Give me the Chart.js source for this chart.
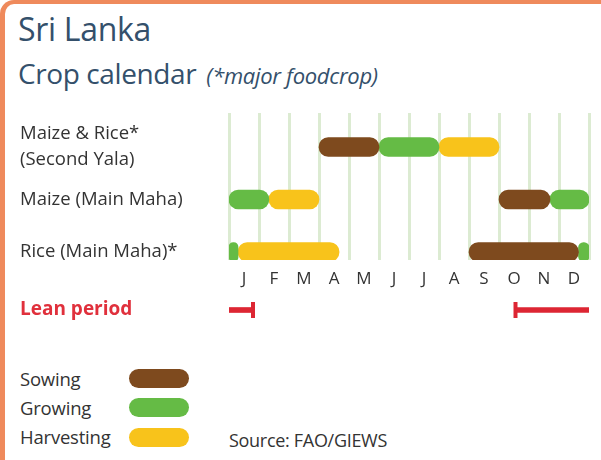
<!DOCTYPE html>
<html>
<head>
<meta charset="utf-8">
<script src="https://cdn.jsdelivr.net/npm/chart.js@4"></script>
<style>
  html, body { margin: 0; padding: 0; background: #fff; }
  body { width: 601px; height: 460px; position: relative; overflow: hidden; font-family: "Open Sans", sans-serif; }
  #frame { position: absolute; left: 0; top: 0; width: 640px; height: 520px; box-sizing: border-box;
           border-top: 4px solid #ef8a5c; border-left: 5px solid #ef8a5c; border-top-left-radius: 14px; }
  .t1 { position: absolute; left: 18px; top: 7px; font-size: 32px; line-height: 44px; color: #34506b; letter-spacing: -0.3px; }
  .t2 { position: absolute; left: 18px; top: 53px; font-size: 28px; line-height: 40px; color: #34506b; letter-spacing: -0.4px; }
  .t2 i { font-size: 22px; margin-left: 10px; letter-spacing: -0.3px; }
  #main { position: absolute; left: 0; top: 95px; }
  #lean { position: absolute; left: 0; top: 295px; }
  .leg { position: absolute; left: 20px; font-size: 18.5px; line-height: 24px; color: #333; letter-spacing: -0.2px; }
  .pill { position: absolute; left: 129px; width: 60px; height: 19px; border-radius: 10px; }
  .src { position: absolute; left: 229px; top: 428px; font-size: 18px; line-height: 24px; color: #333; letter-spacing: -0.3px; }
</style>
</head>
<body>
<div id="frame"></div>
<div class="t1">Sri Lanka</div>
<div class="t2">Crop calendar<i>(*major foodcrop)</i></div>
<canvas id="main" width="601" height="200"></canvas>
<canvas id="lean" width="601" height="30"></canvas>
<div class="leg" style="top:367px">Sowing</div>
<div class="pill" style="top:369px;background:#7e4a1e"></div>
<div class="leg" style="top:396px">Growing</div>
<div class="pill" style="top:398px;background:#65bb45"></div>
<div class="leg" style="top:425px">Harvesting</div>
<div class="pill" style="top:428px;background:#f8c31b"></div>
<div class="src">Source: FAO/GIEWS</div>
<script>
// ---- data ----
const months = ['J','F','M','A','M','J','J','A','S','O','N','D'];
const crops = [['Maize & Rice*', '(Second Yala)'], 'Maize (Main Maha)', 'Rice (Main Maha)*'];
// [crop index, start, end] in months counted from 1 January
const sowing = [[0, 3, 5], [1, 9, 10.7], [2, 8, 11.65]];
const growing = [[0, 5, 7], [1, 0, 1.33], [1, 10.7, 12], [2, 0, 0.3], [2, 11.65, 12]];
const harvesting = [[0, 7, 9], [1, 1.33, 3], [2, 0.3, 3.67]];
const leanPeriods = [[0, 0.8], [9.55, 12]];
const leanCaps = [0.8, 9.55];

const COLORS = { sowing: '#7e4a1e', growing: '#65bb45', harvesting: '#f8c31b', lean: '#dd2633' };
const FONT = '"Open Sans", sans-serif';

function toBars(list) { return list.map(([c, s, e]) => ({ x: [s, e], y: c })); }
function stage(label, list, color) {
  return { label, data: toBars(list), backgroundColor: color, borderWidth: 0,
           borderRadius: 12, borderSkipped: false, barThickness: 19, grouped: false };
}

new Chart(document.getElementById('main'), {
  type: 'bar',
  data: { datasets: [
    stage('Sowing', sowing, COLORS.sowing),
    stage('Growing', growing, COLORS.growing),
    stage('Harvesting', harvesting, COLORS.harvesting)
  ]},
  options: {
    indexAxis: 'y', responsive: false, animation: false,
    layout: { padding: { left: 20, right: 12, top: 18, bottom: 0 } },
    plugins: { legend: { display: false }, tooltip: { enabled: false } },
    scales: {
      x: { type: 'linear', min: 0, max: 12, display: false },
      xm: { type: 'category', labels: months, position: 'bottom', offset: true,
            grid: { offset: true, color: '#dcebd2', lineWidth: 3, drawTicks: false },
            border: { display: false },
            ticks: { color: '#333', font: { family: FONT, size: 17 }, padding: 9, maxRotation: 0, autoSkip: false },
            afterFit: s => { s.height = 35; } },
      y: { type: 'linear', reverse: true, offset: false, min: -0.648, max: 2.152,
           grid: { display: false }, border: { display: false },
           afterBuildTicks: s => { s.ticks = crops.map((_, i) => ({ value: i })); },
           ticks: { color: '#333', crossAlign: 'far', padding: 0, autoSkip: false,
                    font: { family: FONT, size: 18.5, lineHeight: 1.4 },
                    callback: v => crops[v] },
           afterFit: s => { s.width = 209; } }
    }
  }
});

new Chart(document.getElementById('lean'), {
  type: 'bar',
  data: { labels: ['Lean period'], datasets: [
    { type: 'bar', data: leanPeriods.map(([s, e]) => ({ x: [s, e], y: 'Lean period' })),
      backgroundColor: COLORS.lean, borderWidth: 0, barThickness: 5, grouped: false },
    { type: 'scatter', data: leanCaps.map(v => ({ x: v, y: 'Lean period' })),
      pointStyle: 'line', rotation: 90, radius: 8, borderWidth: 4,
      borderColor: COLORS.lean, backgroundColor: COLORS.lean }
  ]},
  options: {
    indexAxis: 'y', responsive: false, animation: false,
    layout: { padding: { left: 20, right: 12, top: 0, bottom: 0 } },
    plugins: { legend: { display: false }, tooltip: { enabled: false } },
    scales: {
      x: { type: 'linear', min: 0, max: 12, display: false },
      y: { type: 'category', grid: { display: false }, border: { display: false },
           ticks: { color: '#e0303c', crossAlign: 'far', padding: 0,
                    font: { family: FONT, size: 19, weight: 'bold' } },
           afterFit: s => { s.width = 209; } }
    }
  }
});
</script>
</body>
</html>
